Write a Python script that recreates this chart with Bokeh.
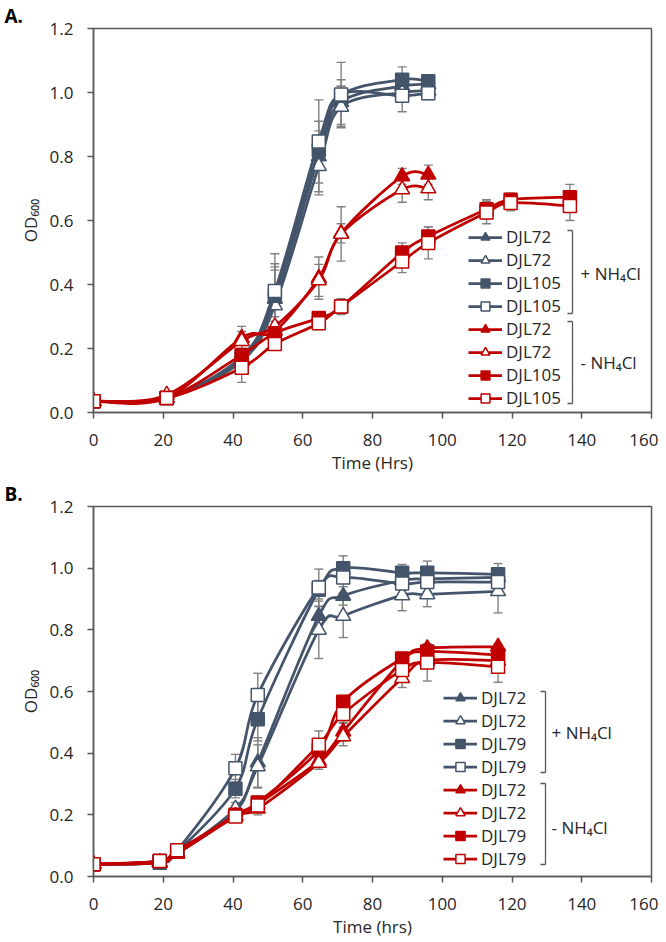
import numpy as np
from bokeh.plotting import figure
from bokeh.models import (Range1d, FixedTicker, NumeralTickFormatter, Legend,
                          LegendItem, Label, Arrow, ColumnDataSource)
from bokeh.layouts import column
from bokeh.embed import file_html
from bokeh.resources import INLINE

# ---------------- data ----------------
x_ticks = [0, 20, 40, 60, 80, 100, 120, 140, 160]
y_ticks = [0.0, 0.2, 0.4, 0.6, 0.8, 1.0, 1.2]

# Panel A
time_a = [0, 21, 42.5, 52, 64.6, 71, 88.5, 96]
time_a_long = [0, 21, 42.5, 52, 64.6, 71, 88.5, 96, 112.7, 119.6, 136.6]

a_plus_djl72_f = [0.035, 0.045, 0.17, 0.355, 0.80, 0.97, 1.02, 1.025]
a_plus_djl72_o = [0.035, 0.045, 0.16, 0.335, 0.77, 0.955, 1.00, 1.005]
a_plus_djl105_f = [0.035, 0.045, 0.175, 0.365, 0.82, 0.99, 1.04, 1.035]
a_plus_djl105_o = [0.035, 0.045, 0.17, 0.38, 0.847, 0.994, 0.99, 0.998]
a_minus_djl72_f = [0.035, 0.045, 0.233, 0.255, 0.42, 0.56, 0.738, 0.743]
a_minus_djl72_o = [0.035, 0.055, 0.223, 0.269, 0.413, 0.558, 0.697, 0.70]
a_minus_djl105_f = [0.035, 0.045, 0.18, 0.248, 0.295, 0.331, 0.50, 0.55, 0.635, 0.665, 0.673]
a_minus_djl105_o = [0.035, 0.045, 0.14, 0.214, 0.279, 0.331, 0.472, 0.53, 0.625, 0.655, 0.645]

a_plus_djl72_f_err = [0, 0, 0.02, 0.09, 0.11, 0.07, 0.03, 0.02]
a_plus_djl72_o_err = [0, 0, 0.02, 0.12, 0.09, 0.065, 0.03, 0.02]
a_plus_djl105_f_err = [0, 0, 0.02, 0.10, 0.06, 0.03, 0.04, 0.02]
a_plus_djl105_o_err = [0, 0, 0.02, 0.116, 0.13, 0.10, 0.05, 0.02]
a_minus_djl72_f_err = [0, 0, 0.036, 0.03, 0.066, 0.03, 0.025, 0.03]
a_minus_djl72_o_err = [0, 0, 0.03, 0.03, 0.05, 0.085, 0.04, 0.035]
a_minus_djl105_f_err = [0, 0, 0.02, 0.02, 0.02, 0.02, 0.03, 0.03, 0.03, 0.02, 0.04]
a_minus_djl105_o_err = [0, 0, 0.046, 0.02, 0.02, 0.025, 0.035, 0.05, 0.035, 0.025, 0.045]

# Panel B
time_b = [0, 19, 24, 40.7, 47.1, 64.6, 71.6, 88.5, 95.7, 116]

b_plus_djl72_f = [0.04, 0.045, 0.075, 0.21, 0.37, 0.845, 0.91, 0.96, 0.965, 0.97]
b_plus_djl72_o = [0.04, 0.045, 0.075, 0.22, 0.357, 0.80, 0.845, 0.912, 0.915, 0.925]
b_plus_djl79_f = [0.04, 0.045, 0.08, 0.285, 0.51, 0.93, 1.0, 0.985, 0.985, 0.98]
b_plus_djl79_o = [0.04, 0.05, 0.085, 0.351, 0.589, 0.937, 0.97, 0.95, 0.955, 0.955]
b_minus_djl72_f = [0.04, 0.045, 0.075, 0.195, 0.235, 0.375, 0.47, 0.70, 0.74, 0.745]
b_minus_djl72_o = [0.04, 0.045, 0.075, 0.195, 0.22, 0.368, 0.454, 0.643, 0.70, 0.70]
b_minus_djl79_f = [0.04, 0.05, 0.08, 0.20, 0.24, 0.41, 0.567, 0.707, 0.73, 0.718]
b_minus_djl79_o = [0.04, 0.05, 0.085, 0.195, 0.23, 0.427, 0.527, 0.67, 0.694, 0.68]

b_plus_djl72_f_err = [0, 0, 0, 0.02, 0.08, 0.03, 0.03, 0.03, 0.03, 0.03]
b_plus_djl72_o_err = [0, 0, 0, 0.02, 0.07, 0.093, 0.07, 0.05, 0.04, 0.07]
b_plus_djl79_f_err = [0, 0, 0, 0.03, 0.07, 0.03, 0.04, 0.027, 0.038, 0.035]
b_plus_djl79_o_err = [0, 0, 0, 0.045, 0.07, 0.06, 0.05, 0.03, 0.03, 0.03]
b_minus_djl72_f_err = [0, 0, 0, 0.01, 0.02, 0.02, 0.03, 0.02, 0.015, 0.01]
b_minus_djl72_o_err = [0, 0, 0, 0.01, 0.02, 0.02, 0.03, 0.03, 0.02, 0.02]
b_minus_djl79_f_err = [0, 0, 0, 0.01, 0.02, 0.02, 0.02, 0.02, 0.02, 0.02]
b_minus_djl79_o_err = [0, 0, 0, 0.01, 0.02, 0.045, 0.03, 0.03, 0.06, 0.05]

# ---------------- styling ----------------
BLUE = "#44546A"
RED = "#C00000"
GREY = "#808080"
AXIS = "#595959"
TEXT = "#262626"
FONT = "Open Sans"

series_a = [
    ("DJL72", time_a, a_plus_djl72_f, a_plus_djl72_f_err, BLUE, "triangle", True),
    ("DJL72", time_a, a_plus_djl72_o, a_plus_djl72_o_err, BLUE, "triangle", False),
    ("DJL105", time_a, a_plus_djl105_f, a_plus_djl105_f_err, BLUE, "square", True),
    ("DJL105", time_a, a_plus_djl105_o, a_plus_djl105_o_err, BLUE, "square", False),
    ("DJL72", time_a, a_minus_djl72_f, a_minus_djl72_f_err, RED, "triangle", True),
    ("DJL72", time_a, a_minus_djl72_o, a_minus_djl72_o_err, RED, "triangle", False),
    ("DJL105", time_a_long, a_minus_djl105_f, a_minus_djl105_f_err, RED, "square", True),
    ("DJL105", time_a_long, a_minus_djl105_o, a_minus_djl105_o_err, RED, "square", False),
]
series_b = [
    ("DJL72", time_b, b_plus_djl72_f, b_plus_djl72_f_err, BLUE, "triangle", True),
    ("DJL72", time_b, b_plus_djl72_o, b_plus_djl72_o_err, BLUE, "triangle", False),
    ("DJL79", time_b, b_plus_djl79_f, b_plus_djl79_f_err, BLUE, "square", True),
    ("DJL79", time_b, b_plus_djl79_o, b_plus_djl79_o_err, BLUE, "square", False),
    ("DJL72", time_b, b_minus_djl72_f, b_minus_djl72_f_err, RED, "triangle", True),
    ("DJL72", time_b, b_minus_djl72_o, b_minus_djl72_o_err, RED, "triangle", False),
    ("DJL79", time_b, b_minus_djl79_f, b_minus_djl79_f_err, RED, "square", True),
    ("DJL79", time_b, b_minus_djl79_o, b_minus_djl79_o_err, RED, "square", False),
]


def bezier_source(xs, ys):
    """Cubic Bezier pieces (Catmull-Rom style smoothing, like a spreadsheet's smoothed line)."""
    n = len(xs)
    d = dict(x0=[], y0=[], x1=[], y1=[], cx0=[], cy0=[], cx1=[], cy1=[])
    for i in range(n - 1):
        xp, yp = (xs[i - 1], ys[i - 1]) if i > 0 else (xs[i], ys[i])
        xn, yn = (xs[i + 2], ys[i + 2]) if i + 2 < n else (xs[i + 1], ys[i + 1])
        d["x0"].append(xs[i]); d["y0"].append(ys[i])
        d["x1"].append(xs[i + 1]); d["y1"].append(ys[i + 1])
        d["cx0"].append(xs[i] + (xs[i + 1] - xp) / 6.0)
        d["cy0"].append(ys[i] + (ys[i + 1] - yp) / 6.0)
        d["cx1"].append(xs[i + 1] - (xn - xs[i]) / 6.0)
        d["cy1"].append(ys[i + 1] - (yn - ys[i]) / 6.0)
    return ColumnDataSource(d)


def make_panel(series, xlabel, tag, frame_h, top_border, bottom_border,
               legend_loc, row_h, bracket_x, brackets, group_labels):
    p = figure(frame_width=558, frame_height=frame_h,
               min_border_left=93, min_border_right=7,
               min_border_top=top_border, min_border_bottom=bottom_border,
               x_range=Range1d(0, 160), y_range=Range1d(0, 1.2),
               title=tag, output_backend="svg", toolbar_location=None)
    p.title.text_font = FONT
    p.title.text_font_size = "19px"
    p.title.text_font_style = "bold"
    p.title.text_color = "black"
    p.title.align = "left"
    p.title.offset = -89
    p.title.standoff = 0

    p.grid.visible = False
    p.outline_line_color = AXIS
    p.outline_line_width = 1.5
    p.background_fill_color = "white"

    p.xaxis.ticker = FixedTicker(ticks=x_ticks)
    p.yaxis.ticker = FixedTicker(ticks=y_ticks)
    p.yaxis.formatter = NumeralTickFormatter(format="0.0")
    for ax in (p.xaxis, p.yaxis):
        ax.axis_line_color = AXIS
        ax.axis_line_width = 1.5
        ax.major_tick_line_color = AXIS
        ax.major_tick_line_width = 1.5
        ax.major_tick_in = 0
        ax.major_tick_out = 6
        ax.minor_tick_line_color = None
        ax.major_label_text_font = FONT
        ax.major_label_text_font_size = "17px"
        ax.major_label_text_color = TEXT
        ax.axis_label_text_font = FONT
        ax.axis_label_text_font_size = "17px"
        ax.axis_label_text_font_style = "normal"
        ax.axis_label_text_color = TEXT
    p.xaxis.major_label_standoff = 15
    p.yaxis.major_label_standoff = 14
    p.xaxis.axis_label = xlabel
    p.xaxis.axis_label_standoff = 2
    p.yaxis.axis_label = "OD\u2086\u2080\u2080"
    p.yaxis.axis_label_standoff = 5

    # error bars (behind everything else)
    for (lab, t, v, e, col, mk, filled) in series:
        ex = [ti for ti, ei in zip(t, e) if ei > 0]
        ev = [vi for vi, ei in zip(v, e) if ei > 0]
        ee = [ei for ei in e if ei > 0]
        lo = [a - b for a, b in zip(ev, ee)]
        hi = [a + b for a, b in zip(ev, ee)]
        p.segment(x0=ex, y0=lo, x1=ex, y1=hi, line_color=GREY, line_width=1.4)
        p.scatter(x=ex + ex, y=lo + hi, marker="dash", size=9,
                  line_color=GREY, line_width=1.4)

    items = []
    for (lab, t, v, e, col, mk, filled) in series:
        p.bezier(x0="x0", y0="y0", x1="x1", y1="y1", cx0="cx0", cy0="cy0",
                 cx1="cx1", cy1="cy1", source=bezier_source(t, v),
                 line_color=col, line_width=2.75, line_cap="round")
        size = 15 if mk == "triangle" else 13
        r_mk = p.scatter(x=t, y=v, marker=mk, size=size, line_color=col,
                         line_width=1.5, fill_color=col if filled else "white")
        # a line renderer with a single empty (NaN) point: used only for the legend swatch
        r_ln = p.line(x=[float("nan")], y=[float("nan")], line_color=col, line_width=2.75)
        items.append(LegendItem(label=lab, renderers=[r_ln, r_mk]))

    legend = Legend(items=items, location=legend_loc, orientation="vertical",
                    glyph_width=34, glyph_height=row_h, label_height=row_h,
                    spacing=0, padding=0, margin=0,
                    label_standoff=4, label_text_font=FONT,
                    label_text_font_size="17px", label_text_color=TEXT,
                    background_fill_alpha=0, border_line_color=None)
    p.add_layout(legend)

    # brackets grouping the legend entries
    for (y_top, y_bot) in brackets:
        for (xs, ys, xe, ye) in ((bracket_x - 5, y_top, bracket_x, y_top),
                                 (bracket_x, y_top, bracket_x, y_bot),
                                 (bracket_x, y_bot, bracket_x - 5, y_bot)):
            p.add_layout(Arrow(x_start=xs, y_start=ys, x_end=xe, y_end=ye,
                               start_units="screen", end_units="screen",
                               start=None, end=None, line_color=AXIS,
                               line_width=1.3))
    for (gx, gy, txt) in group_labels:
        p.add_layout(Label(x=gx, y=gy, x_units="screen", y_units="screen",
                           text=txt, text_font=FONT, text_font_size="17px",
                           text_color=TEXT, text_baseline="middle",
                           text_align="left"))
    return p


pA = make_panel(series_a, "Time (Hrs)", "A.", 384, 26, 65,
                (375, 3), 22, 479,
                [(182, 99), (91, 9)],
                [(487, 139, "+ NH\u2084Cl"), (487, 50, "- NH\u2084Cl")])
pB = make_panel(series_b, "Time (hrs)", "B.", 370, 29, 65,
                (350, 6), 23, 452,
                [(185, 104), (93, 12)],
                [(458, 144, "+ NH\u2084Cl"), (458, 49, "- NH\u2084Cl")])

layout = column(pA, pB, spacing=0)
open("out.html", "w").write(file_html(layout, INLINE))
